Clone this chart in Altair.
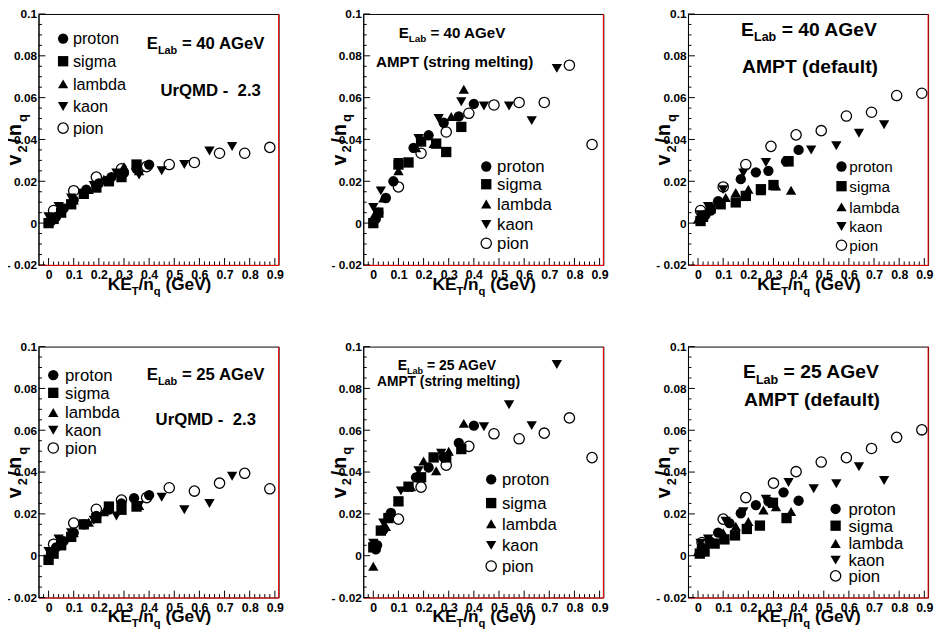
import altair as alt
import pandas as pd

FONT = "Liberation Sans"
W, H = 244, 255
XDOM = [-0.04, 0.915]
YDOM = [-0.02, 0.1]

# ---------------- data ----------------
# UrQMD 2.3, E_Lab = 40 AGeV
u40_proton_x = [0.01, 0.03, 0.06, 0.1, 0.15, 0.2, 0.25, 0.3, 0.35, 0.4]
u40_proton_y = [0.001, 0.003, 0.007, 0.011, 0.016, 0.019, 0.022, 0.024, 0.026, 0.028]
u40_sigma_x = [0.0, 0.02, 0.05, 0.09, 0.14, 0.19, 0.24, 0.29, 0.35]
u40_sigma_y = [0.0, 0.002, 0.005, 0.009, 0.014, 0.017, 0.020, 0.022, 0.028]
u40_lambda_x = [0.0, 0.05, 0.1, 0.16, 0.22, 0.3, 0.36]
u40_lambda_y = [0.001, 0.006, 0.011, 0.016, 0.021, 0.027, 0.025]
u40_kaon_x = [0.0, 0.04, 0.09, 0.18, 0.27, 0.36, 0.45, 0.54, 0.64, 0.73]
u40_kaon_y = [0.003, 0.008, 0.012, 0.018, 0.024, 0.023, 0.025, 0.028, 0.0345, 0.0366]
u40_pion_x = [0.02, 0.1, 0.19, 0.29, 0.39, 0.48, 0.58, 0.68, 0.78, 0.88]
u40_pion_y = [0.006, 0.0155, 0.022, 0.026, 0.027, 0.028, 0.029, 0.0334, 0.0334, 0.0362]

# AMPT string melting, 40 AGeV
s40_proton_x = [0.01, 0.02, 0.05, 0.08, 0.16, 0.22, 0.28, 0.34, 0.4]
s40_proton_y = [0.002, 0.005, 0.012, 0.02, 0.036, 0.042, 0.048, 0.051, 0.057]
s40_sigma_x = [0.0, 0.02, 0.1, 0.14, 0.19, 0.25, 0.29, 0.35]
s40_sigma_y = [0.0, 0.005, 0.028, 0.029, 0.039, 0.038, 0.034, 0.046]
s40_lambda_x = [0.0, 0.04, 0.1, 0.17, 0.24, 0.31, 0.36]
s40_lambda_y = [0.003, 0.012, 0.025, 0.036, 0.038, 0.051, 0.064]
s40_kaon_x = [0.0, 0.03, 0.1, 0.18, 0.26, 0.35, 0.44, 0.54, 0.63, 0.73]
s40_kaon_y = [0.0075, 0.0154, 0.029, 0.0405, 0.05, 0.058, 0.056, 0.056, 0.049, 0.074]
s40_pion_x = [0.1, 0.19, 0.29, 0.38, 0.48, 0.58, 0.68, 0.78, 0.87]
s40_pion_y = [0.0173, 0.0334, 0.0436, 0.0525, 0.0565, 0.0577, 0.0577, 0.0755, 0.0376]

# AMPT default, 40 AGeV
d40_proton_x = [0.01, 0.03, 0.05, 0.08, 0.17, 0.23, 0.28, 0.35, 0.4]
d40_proton_y = [0.002, 0.004, 0.006, 0.0105, 0.021, 0.0243, 0.025, 0.0295, 0.035]
d40_sigma_x = [0.01, 0.02, 0.05, 0.09, 0.15, 0.19, 0.25, 0.3, 0.36]
d40_sigma_y = [0.001, 0.003, 0.007, 0.009, 0.0099, 0.013, 0.0162, 0.0182, 0.0295]
d40_lambda_x = [0.0, 0.05, 0.11, 0.15, 0.2, 0.25, 0.31, 0.37]
d40_lambda_y = [0.002, 0.0075, 0.0122, 0.0146, 0.0162, 0.0154, 0.0177, 0.0157]
d40_kaon_x = [0.01, 0.04, 0.1, 0.18, 0.27, 0.36, 0.45, 0.55, 0.64, 0.74]
d40_kaon_y = [0.004, 0.008, 0.016, 0.024, 0.029, 0.03, 0.035, 0.037, 0.043, 0.047]
d40_pion_x = [0.01, 0.1, 0.19, 0.29, 0.39, 0.49, 0.59, 0.69, 0.79, 0.89]
d40_pion_y = [0.006, 0.0173, 0.028, 0.0367, 0.0422, 0.0442, 0.0512, 0.053, 0.061, 0.0621]

# UrQMD 2.3, 25 AGeV
u25_proton_x = [0.01, 0.03, 0.06, 0.1, 0.14, 0.19, 0.24, 0.29, 0.34, 0.4]
u25_proton_y = [0.001, 0.004, 0.007, 0.011, 0.015, 0.019, 0.022, 0.025, 0.0275, 0.029]
u25_sigma_x = [0.0, 0.02, 0.05, 0.09, 0.14, 0.19, 0.24, 0.29, 0.35]
u25_sigma_y = [-0.002, 0.001, 0.005, 0.009, 0.015, 0.018, 0.0235, 0.022, 0.0235]
u25_lambda_x = [0.0, 0.05, 0.1, 0.16, 0.22, 0.29, 0.36]
u25_lambda_y = [0.0, 0.006, 0.011, 0.016, 0.021, 0.022, 0.024]
u25_kaon_x = [0.0, 0.04, 0.09, 0.18, 0.27, 0.36, 0.45, 0.54, 0.64, 0.73]
u25_kaon_y = [0.002, 0.008, 0.011, 0.017, 0.019, 0.024, 0.028, 0.022, 0.025, 0.038]
u25_pion_x = [0.02, 0.1, 0.19, 0.29, 0.39, 0.48, 0.58, 0.68, 0.78, 0.88]
u25_pion_y = [0.0055, 0.0156, 0.0222, 0.0266, 0.0278, 0.0325, 0.0309, 0.0347, 0.0394, 0.032]

# AMPT string melting, 25 AGeV
s25_proton_x = [0.01, 0.015, 0.04, 0.07, 0.17, 0.22, 0.28, 0.34, 0.4]
s25_proton_y = [0.003, 0.005, 0.0125, 0.0205, 0.0375, 0.0422, 0.047, 0.054, 0.0622]
s25_sigma_x = [0.0, 0.03, 0.06, 0.1, 0.14, 0.19, 0.24, 0.29, 0.35]
s25_sigma_y = [0.004, 0.012, 0.018, 0.026, 0.033, 0.0375, 0.047, 0.047, 0.051]
s25_lambda_x = [0.0, 0.05, 0.1, 0.15, 0.2, 0.25, 0.3, 0.36]
s25_lambda_y = [-0.005, 0.014, 0.026, 0.033, 0.0453, 0.0406, 0.05, 0.0633]
s25_kaon_x = [0.0, 0.04, 0.11, 0.18, 0.27, 0.44, 0.54, 0.63, 0.73]
s25_kaon_y = [0.006, 0.0156, 0.031, 0.0406, 0.049, 0.0617, 0.0722, 0.0622, 0.0914]
s25_pion_x = [0.1, 0.19, 0.29, 0.38, 0.48, 0.58, 0.68, 0.78, 0.87]
s25_pion_y = [0.0175, 0.0328, 0.0433, 0.0523, 0.0583, 0.0559, 0.0586, 0.0659, 0.0469]

# AMPT default, 25 AGeV
d25_proton_x = [0.015, 0.046, 0.08, 0.125, 0.17, 0.23, 0.28, 0.34, 0.4]
d25_proton_y = [0.004, 0.007, 0.011, 0.0156, 0.0203, 0.0242, 0.026, 0.0303, 0.0263]
d25_sigma_x = [0.007, 0.026, 0.066, 0.105, 0.147, 0.194, 0.246, 0.298, 0.352]
d25_sigma_y = [0.001, 0.002, 0.0058, 0.0078, 0.0097, 0.0128, 0.0144, 0.0253, 0.018]
d25_lambda_x = [0.0, 0.05, 0.1, 0.15, 0.2, 0.26, 0.31, 0.37]
d25_lambda_y = [0.002, 0.006, 0.011, 0.0141, 0.0164, 0.0219, 0.0234, 0.0211]
d25_kaon_x = [0.01, 0.04, 0.11, 0.18, 0.27, 0.36, 0.46, 0.55, 0.64, 0.74]
d25_kaon_y = [0.006, 0.008, 0.0165, 0.021, 0.027, 0.035, 0.032, 0.0344, 0.0425, 0.036]
d25_pion_x = [0.016, 0.1, 0.19, 0.3, 0.39, 0.49, 0.59, 0.69, 0.79, 0.89]
d25_pion_y = [0.0063, 0.0175, 0.0278, 0.0347, 0.0402, 0.0448, 0.0469, 0.0513, 0.0566, 0.0602]

SPECIES = ["proton", "sigma", "lambda", "kaon", "pion"]
SHAPES = {"proton": "circle", "sigma": "square", "lambda": "triangle-up",
          "kaon": "triangle-down", "pion": "circle"}

X_MAJOR = [0.0, 0.1, 0.2, 0.3, 0.4, 0.5, 0.6, 0.7, 0.8, 0.9]
Y_MAJOR = [-0.02, 0.0, 0.02, 0.04, 0.06, 0.08, 0.1]
X_MINOR = [round(-0.02 + 0.02 * i, 3) for i in range(47)]
X_MINOR = [v for v in X_MINOR if abs(v * 10 - round(v * 10)) > 1e-6 and v <= 0.91]
Y_MINOR = [round(-0.02 + 0.005 * i, 4) for i in range(25)]
Y_MINOR = [v for v in Y_MINOR if abs(v * 50 - round(v * 50)) > 1e-6]

ONE = pd.DataFrame({"k": [0]})
NBSP = "\u00a0"

# Arial/Liberation Sans Bold advance widths (per 1000 em)
AB = {' ': 278, NBSP: 278, '(': 333, ')': 333, '-': 333, '.': 278, '/': 278, '=': 584,
      'A': 722, 'E': 667, 'G': 778, 'K': 722, 'L': 611, 'M': 833, 'P': 667,
      'Q': 778, 'D': 722, 'T': 611, 'U': 722, 'V': 667, 'a': 556, 'b': 611,
      'd': 611, 'e': 556, 'f': 333, 'g': 611, 'i': 278, 'l': 278, 'm': 889,
      'n': 611, 'q': 611, 'r': 389, 's': 556, 't': 333, 'u': 611, 'v': 556}


def tw(s, size):
    return sum(AB.get(c, 556) for c in s) * size / 1000.0


def rich(parts, x, y, size, angle=0, center=False, sub_scale=0.65, sub_drop=0.3, gap=0.0):
    widths = []
    for txt, sub in parts:
        fs = size * sub_scale if sub else size
        widths.append(tw(txt, fs))
    total = sum(widths) + gap * (len(parts) - 1)
    off = -total / 2 if center else 0.0
    layers = []
    for (txt, sub), w in zip(parts, widths):
        fs = size * sub_scale if sub else size
        lead = len(txt) - len(txt.lstrip(" "))
        shown = txt.lstrip(" ").replace("  ", " " + NBSP)
        layers.append(
            alt.Chart(ONE).mark_text(
                text=shown, font=FONT, fontWeight="bold", fontSize=fs,
                align="left", baseline="alphabetic", angle=angle,
                dx=off + tw(" " * lead, fs), dy=(size * sub_drop if sub else 0),
                color="black",
            ).encode(x=alt.value(x), y=alt.value(y))
        )
        off += w + gap
    return layers


def series(key, sp):
    g = globals()
    return pd.DataFrame({"x": g[f"{key}_{sp}_x"], "y": g[f"{key}_{sp}_y"]})


xs = alt.Scale(domain=XDOM, nice=False, zero=False)
ys = alt.Scale(domain=YDOM, nice=False, zero=False)
XAX = alt.Axis(values=X_MAJOR, labelExpr="format(datum.value, '~g')", title=None,
               ticks=False, grid=False, domainColor="red", domainWidth=1,
               labelFont=FONT, labelFontWeight="bold", labelFontSize=12.5,
               labelColor="black", labelPadding=4, labelFlush=False, labelOverlap=False)
YAX = alt.Axis(values=Y_MAJOR,
               labelExpr="datum.value < 0 ? '- ' + format(-datum.value, '~g') : format(datum.value, '~g')",
               title=None, ticks=False, grid=False, domainColor="black", domainWidth=1,
               labelFont=FONT, labelFontWeight="bold", labelFontSize=12,
               labelColor="black", labelPadding=2, labelFlush=False, labelOverlap=False)

MSIZE = 110


def marker(sp, size=MSIZE):
    if sp == "pion":
        return dict(shape="circle", filled=False, stroke="black", strokeWidth=1.3,
                    size=size, opacity=1)
    return dict(shape=SHAPES[sp], filled=True, color="black", size=size, opacity=1,
                strokeWidth=0)


def panel(key, texts, leg):
    layers = []
    # ticks (inside, ROOT style)
    layers.append(alt.Chart(pd.DataFrame({"t": X_MAJOR})).mark_rule(color="black", strokeWidth=1)
                  .encode(x=alt.X("t:Q", scale=xs, axis=XAX), y=alt.value(H), y2=alt.value(H - 7)))
    layers.append(alt.Chart(pd.DataFrame({"t": X_MINOR})).mark_rule(color="black", strokeWidth=1)
                  .encode(x=alt.X("t:Q", scale=xs, axis=XAX), y=alt.value(H), y2=alt.value(H - 3.5)))
    layers.append(alt.Chart(pd.DataFrame({"t": Y_MAJOR})).mark_rule(color="black", strokeWidth=1)
                  .encode(y=alt.Y("t:Q", scale=ys, axis=YAX), x=alt.value(0), x2=alt.value(7)))
    layers.append(alt.Chart(pd.DataFrame({"t": Y_MINOR})).mark_rule(color="black", strokeWidth=1)
                  .encode(y=alt.Y("t:Q", scale=ys, axis=YAX), x=alt.value(0), x2=alt.value(3.5)))
    # right edge
    layers.append(alt.Chart(ONE).mark_rule(color="red", strokeWidth=1)
                  .encode(x=alt.value(W), y=alt.value(0), y2=alt.value(H)))
    # data
    for sp in SPECIES:
        layers.append(alt.Chart(series(key, sp)).mark_point(**marker(sp))
                      .encode(x=alt.X("x:Q", scale=xs, axis=XAX), y=alt.Y("y:Q", scale=ys, axis=YAX)))
    # legend
    mx, tx, rows, fs = leg
    for sp, ry in zip(SPECIES, rows):
        layers.append(alt.Chart(ONE).mark_point(**marker(sp))
                      .encode(x=alt.value(mx), y=alt.value(ry)))
        layers.append(alt.Chart(ONE).mark_text(text=sp, font=FONT, fontSize=fs, align="left",
                                               baseline="middle", color="black")
                      .encode(x=alt.value(tx), y=alt.value(ry + 1)))
    # annotations
    for parts, x, y, size in texts:
        layers += rich(parts, x, y, size)
    # axis titles
    layers += rich([("KE", False), ("T", True), ("/n", False), ("q", True), (" (GeV)", False)],
                   W / 2 + 1, H + 25, 17.5, center=True)
    layers += rich([("v", False), ("2", True), ("/", False), ("n", False), ("q", True)],
                   -18, 154, 20, angle=270, gap=2)
    return alt.layer(*layers).properties(width=W, height=H)


def elab(e):
    return [("E", False), ("Lab", True), (f" = {e} AGeV", False)]


p_u40 = panel("u40",
              [(elab(40), 110, 36, 17), ([("UrQMD -  2.3", False)], 124, 83, 17)],
              (25, 35, [25, 48, 71, 94, 116], 16.5))
p_s40 = panel("s40",
              [(elab(40), 36, 24, 15.4), ([("AMPT (string melting)", False)], 13, 54, 15.4)],
              (125, 136, [155, 173, 193, 214, 233], 17))
p_d40 = panel("d40",
              [(elab(40), 54, 22, 19.6), ([("AMPT (default)", False)], 55, 60, 19.6)],
              (156, 164, [155, 175, 196, 216, 235], 15.5))
p_u25 = panel("u25",
              [(elab(25), 110, 34, 17), ([("UrQMD -  2.3", False)], 119, 80, 17)],
              (15, 27, [29, 47, 67, 85, 103], 17))
p_s25 = panel("s25",
              [(elab(25), 35, 24, 14.2), ([("AMPT (string melting)", False)], 14, 40, 14)],
              (130, 141, [135, 159, 180, 202, 223], 17))
p_d25 = panel("d25",
              [(elab(25), 56, 32, 19.6), ([("AMPT (default)", False)], 57, 60, 19.6)],
              (150, 163, [165, 182, 200, 217, 233], 17))

chart = alt.ConcatChart(
    concat=[p_u40, p_s40, p_d40, p_u25, p_s25, p_d25], columns=3,
    spacing={"row": 83, "column": 86}, bounds="flush",
).configure_view(
    stroke="black", strokeWidth=1
).properties(padding={"left": -4, "top": -6, "right": 0, "bottom": 0}, background="white")

chart.save("out.html", embed_options={"renderer": "svg", "actions": False})
